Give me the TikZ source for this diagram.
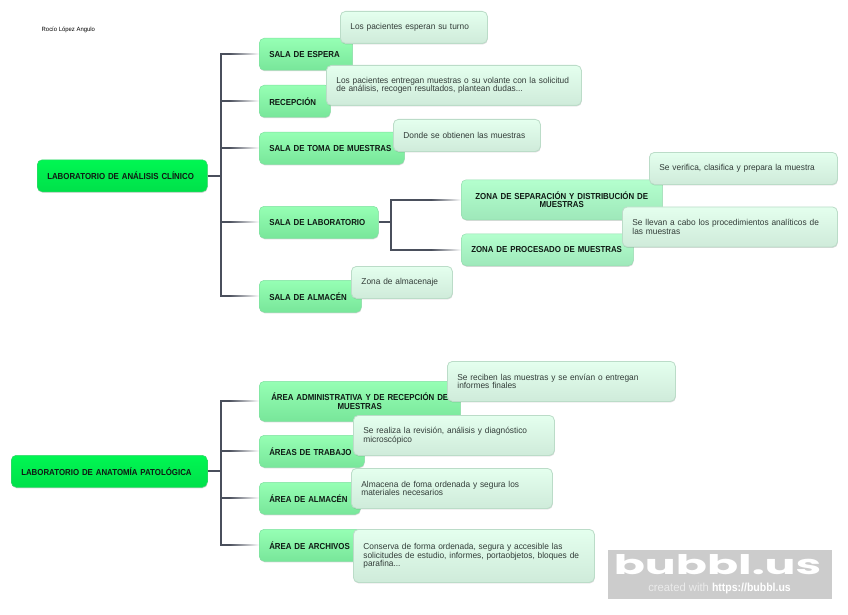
\documentclass[tikz,border=0pt]{standalone}
\usepackage{fontspec}
\usepackage{xcolor}
\usepackage{tikz}
\usetikzlibrary{shapes.geometric, positioning, calc, backgrounds, shadows, fadings}
\setmainfont[FakeStretch=0.97, BoldFeatures={FakeStretch=0.905}]{Liberation Sans}
\newfontfamily\logofont{Poppins}

\definecolor{linkgray}{HTML}{4A4F5C}
\definecolor{inkdark}{HTML}{0F1A14}
\definecolor{inkdesc}{HTML}{323C38}
\definecolor{roottop}{HTML}{00F752}
\definecolor{rootmid}{HTML}{00FF50}
\definecolor{rootbot}{HTML}{00E04A}
\definecolor{rootline}{HTML}{35D46A}
\definecolor{salatop}{HTML}{96FFB4}
\definecolor{salabot}{HTML}{78E69A}
\definecolor{salaline}{HTML}{7FE0A0}
\definecolor{zonatop}{HTML}{B4FFCE}
\definecolor{zonabot}{HTML}{9EE8BA}
\definecolor{zonaline}{HTML}{96DDB0}
\definecolor{desctop}{HTML}{E4FFEE}
\definecolor{descbot}{HTML}{CFEBDA}
\definecolor{descline}{HTML}{BBDCC8}

\tikzset{
    boxw/.style={text width={#1pt-20pt}, minimum width={#1pt}},
    boxbase/.style={rounded corners=5pt, anchor=north west, inner xsep=10pt, inner ysep=0pt, align=left,
        drop shadow={shadow xshift=0.4pt, shadow yshift=-1pt, opacity=0.15, fill=black}},
    rootbox/.style={boxbase, minimum height=32pt, draw=rootline, line width=0.5pt,
        top color=roottop, middle color=rootmid, bottom color=rootbot,
        text=inkdark, font=\fontsize{8.7}{8.7}\selectfont\bfseries},
    salabox/.style={boxbase, minimum height=32pt, draw=salaline, line width=0.5pt,
        top color=salatop, middle color=salatop, bottom color=salabot,
        text=inkdark, font=\fontsize{8.7}{8.7}\selectfont\bfseries},
    zonabox/.style={salabox, draw=zonaline, top color=zonatop, middle color=zonatop, bottom color=zonabot},
    descbox/.style={boxbase, minimum height=32pt, draw=descline, line width=0.8pt,
        top color=desctop, middle color=desctop, bottom color=descbot,
        text=inkdesc, font=\fontsize{8.6}{8.7}\selectfont},
    conn/.style={draw=linkgray, line width=2pt},
}

\begin{document}
\begin{tikzpicture}[x=1pt, y=-1pt]
    \useasboundingbox (0,0) rectangle (848,615);

    \node[anchor=west, inner sep=0pt, font=\fontsize{6.1}{6.2}\selectfont, text=black] (autor) at (41.5,29.5) {Rocío López Angulo};

    % laboratorio de analisis
    \node[rootbox, boxw=170] (clinico) at (37,159.5) {LABORATORIO DE ANÁLISIS CLÍNICO};
    \node[salabox, boxw=93] (espera) at (259,38) {SALA DE ESPERA};
    \node[salabox, boxw=71] (recepcion) at (259,85) {RECEPCIÓN};
    \node[salabox, boxw=145] (toma) at (259,132) {SALA DE TOMA DE MUESTRAS};
    \node[salabox, boxw=119] (labo) at (259,206) {SALA DE LABORATORIO};
    \node[salabox, boxw=102] (almacen) at (259,280) {SALA DE ALMACÉN};
    \node[zonabox, boxw=201, align=center, minimum height=40pt] (separa) at (461,179.5) {ZONA DE SEPARACIÓN Y DISTRIBUCIÓN DE\\MUESTRAS};
    \node[zonabox, boxw=172] (procesa) at (461,233.5) {ZONA DE PROCESADO DE MUESTRAS};

    \node[descbox, boxw=147] (dturno) at (340,11) {Los pacientes esperan su turno};
    \node[descbox, boxw=255, minimum height=40pt] (dentrega) at (326,65) {Los pacientes entregan muestras o su volante con la solicitud\\de análisis, recogen resultados, plantean dudas...};
    \node[descbox, boxw=147] (dobtiene) at (393,119) {Donde se obtienen las muestras};
    \node[descbox, boxw=188] (dverifica) at (649,152) {Se verifica, clasifica y prepara la muestra};
    \node[descbox, boxw=215, minimum height=40pt] (dllevan) at (622,206.5) {Se llevan a cabo los procedimientos analíticos de\\las muestras};
    \node[descbox, boxw=101] (dzona) at (351,266) {Zona de almacenaje};

    % laboratorio de anatomia
    \node[rootbox, boxw=196] (anatomia) at (11,455) {LABORATORIO DE ANATOMÍA PATOLÓGICA};
    \node[salabox, boxw=201, align=center, minimum height=40pt] (admin) at (259,381) {ÁREA ADMINISTRATIVA Y DE RECEPCIÓN DE\\MUESTRAS};
    \node[salabox, boxw=105] (trabajo) at (259,435) {ÁREAS DE TRABAJO};
    \node[salabox, boxw=101] (aalmacen) at (259,482) {ÁREA DE ALMACÉN};
    \node[salabox, boxw=110] (archivos) at (259,529) {ÁREA DE ARCHIVOS};

    \node[descbox, boxw=228, minimum height=40pt] (dreciben) at (447,361) {Se reciben las muestras y se envían o entregan\\informes finales};
    \node[descbox, boxw=201, minimum height=40pt] (drevision) at (353,415) {Se realiza la revisión, análisis y diagnóstico\\microscópico};
    \node[descbox, boxw=201, minimum height=40pt] (dorden) at (351,468) {Almacena de foma ordenada y segura los\\materiales necesarios};
    \node[descbox, boxw=241, minimum height=53pt] (dconserva) at (353,529) {Conserva de forma ordenada, segura y accesible las\\solicitudes de estudio, informes, portaobjetos, bloques de\\parafina...};

    % marca de agua
    \node[anchor=north west, fill=black!20, minimum width=224pt, minimum height=49pt, inner sep=0pt] (marca) at (608,550) {};
    \node[text=white, inner sep=0pt, font=\logofont\fontsize{27}{27}\selectfont\bfseries, xscale=1.7] (logo) at (717.5,565) {bubbl.us};
    \node[inner sep=0pt, font=\fontsize{11.6}{12}\selectfont, text=white] (creado) at (719.5,588.5) {\textcolor{black!8}{created with} \textbf{https://bubbl.us}};

    \begin{scope}[on background layer]
        \foreach \hijo in {espera, recepcion, toma, labo, almacen}
            \draw[conn] (clinico.east) -- ++(13,0) |- (\hijo.west);
        \foreach \hijo in {separa, procesa}
            \draw[conn] (labo.east) -- ++(12,0) |- (\hijo.west);
        \foreach \hijo in {admin, trabajo, aalmacen, archivos}
            \draw[conn] (anatomia.east) -- ++(13,0) |- (\hijo.west);
        \foreach \hijo in {espera, recepcion, toma, labo, almacen, separa, procesa, admin, trabajo, aalmacen, archivos}
            \fill[white, path fading=west] ($(\hijo.west)+(-30,-3)$) rectangle ($(\hijo.west)+(0,3)$);
    \end{scope}
\end{tikzpicture}
\end{document}
